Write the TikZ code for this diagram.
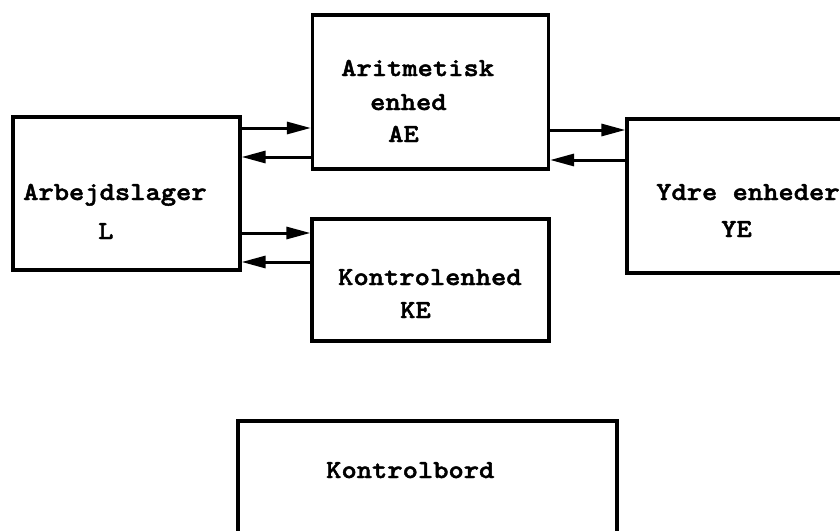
\documentclass[tikz,border=0pt]{standalone}
\usepackage{fontspec}
\newfontfamily\twfont{lmmonolt10-bold.otf}[FakeStretch=1.12,FakeBold=1.8]
\usetikzlibrary{arrows.meta}
\begin{document}
\begin{tikzpicture}[x=1pt,y=-1pt,
  unitbox/.style={draw=black,line width=3.2pt,rectangle,inner sep=0pt},
  lbl/.style={anchor=base west,inner sep=0pt,font=\fontsize{26}{26}\selectfont\twfont},
  flow/.style={line width=3pt,-{Triangle[length=24pt,width=12pt]}}]
\useasboundingbox (0,0) rectangle (840,530);
\clip (0,0) rectangle (840,530);
\node[unitbox,minimum width=227pt,minimum height=153pt] (L) at (126.5,193.5) {};
\node[unitbox,minimum width=236pt,minimum height=154pt] (AE) at (430.5,92) {};
\node[unitbox,minimum width=237pt,minimum height=122pt] (KE) at (430.5,280) {};
\node[unitbox,minimum width=260pt,minimum height=154pt] (YE) at (757,196) {};
\node[unitbox,minimum width=379pt,minimum height=130pt] (KB) at (427.5,486) {};
% texts
\node[lbl] (tL1) at (23,200) {Arbejdslager};
\node[lbl] (tL2) at (98,239) {L};
\node[lbl] (tA1) at (341,76) {Aritmetisk};
\node[lbl] (tA2) at (370,110) {enhed};
\node[lbl] (tA3) at (388,142) {AE};
\node[lbl] (tK1) at (338,285) {Kontrolenhed};
\node[lbl] (tK2) at (400,318) {KE};
\node[lbl] (tY1) at (656,200) {Ydre enheder};
\node[lbl] (tY2) at (721,237) {YE};
\node[lbl] (tB) at (326,478) {Kontrolbord};
% connectors
\draw[flow] (L.east |- 0,128) -- (AE.west |- 0,128);
\draw[flow] (AE.west |- 0,157) -- (L.east |- 0,157);
\draw[flow] (L.east |- 0,233) -- (KE.west |- 0,233);
\draw[flow] (KE.west |- 0,262) -- (L.east |- 0,262);
\draw[flow] (AE.east |- 0,130) -- (YE.west |- 0,130);
\draw[flow] (YE.west |- 0,160) -- (AE.east |- 0,160);
\end{tikzpicture}
\end{document}
